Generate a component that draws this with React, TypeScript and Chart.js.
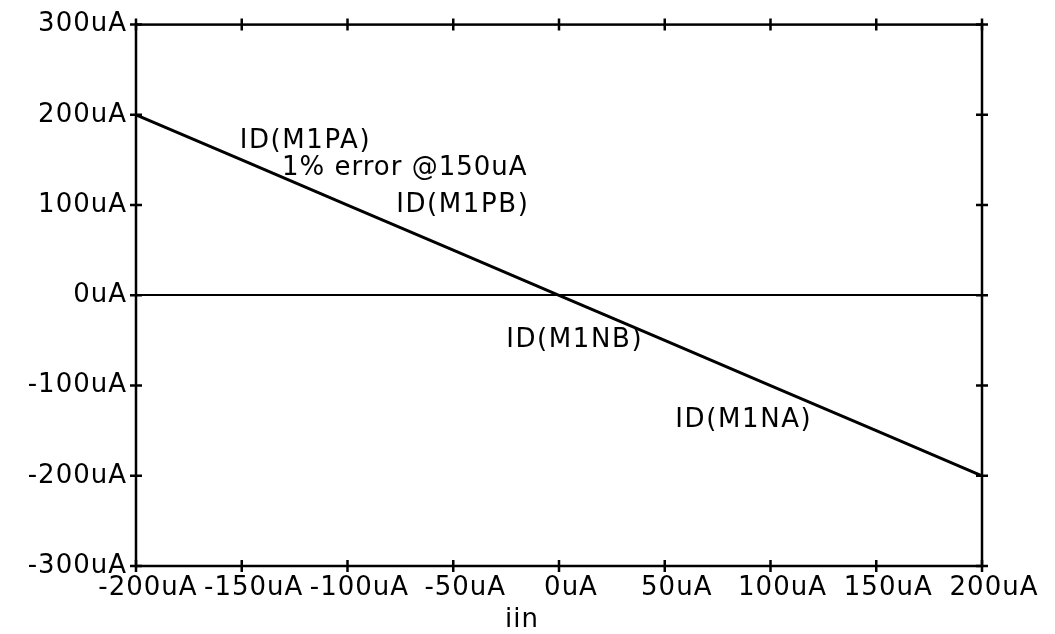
import React, { useEffect, useRef } from "react";
import { Chart, registerables } from "chart.js";

Chart.register(...registerables);

const iinValues = [-200, -150, -100, -50, 0, 50, 100, 150, 200];
const idValues = [200, 150, 100, 50, 0, -50, -100, -150, -200];
const xTickValues = [-200, -150, -100, -50, 0, 50, 100, 150, 200];
const yTickValues = [-300, -200, -100, 0, 100, 200, 300];
const annotationTexts = ["ID(M1PA)", "1% error @150uA", "ID(M1PB)", "ID(M1NB)", "ID(M1NA)"];
const annotationX = [-151, -131, -77, -25, 55];
const annotationY = [171, 141, 100, -50, -139];
const xTitle = "iin";
const xTitlePos = -17.5;

const FONT = "DejaVu Sans";

const framePlugin = {
  id: "frame",
  beforeUpdate(chart: any) {
    chart.ctx.letterSpacing = "1px";
  },
  beforeDraw(chart: any) {
    chart.ctx.letterSpacing = "1px";
  },
  afterDraw(chart: any) {
    const ctx = chart.ctx;
    const { left, right, top, bottom } = chart.chartArea;
    const xs = chart.scales.x;
    const ys = chart.scales.y;
    ctx.save();
    ctx.strokeStyle = "#000";
    ctx.lineWidth = 2.5;
    ctx.strokeRect(left, top, right - left, bottom - top);
    const t = 6;
    ctx.beginPath();
    xTickValues.forEach((v) => {
      const px = xs.getPixelForValue(v);
      ctx.moveTo(px, top - t);
      ctx.lineTo(px, top + t);
      ctx.moveTo(px, bottom - t);
      ctx.lineTo(px, bottom + t);
    });
    yTickValues.forEach((v) => {
      const py = ys.getPixelForValue(v);
      ctx.moveTo(left - t, py);
      ctx.lineTo(left + t, py);
      ctx.moveTo(right - t, py);
      ctx.lineTo(right + t, py);
    });
    ctx.stroke();
    ctx.fillStyle = "#000";
    ctx.font = `26px "${FONT}"`;
    ctx.textAlign = "left";
    ctx.textBaseline = "middle";
    annotationTexts.forEach((txt, i) => {
      ctx.letterSpacing = txt.startsWith("ID") ? "1.6px" : "1px";
      ctx.fillText(txt, xs.getPixelForValue(annotationX[i]), ys.getPixelForValue(annotationY[i]));
    });
    ctx.letterSpacing = "1px";
    ctx.textAlign = "center";
    ctx.textBaseline = "alphabetic";
    ctx.fillText(xTitle, xs.getPixelForValue(xTitlePos), bottom + 61);
    ctx.restore();
  },
};

export default function App() {
  const ref = useRef<HTMLCanvasElement | null>(null);
  useEffect(() => {
    if (!ref.current) return;
    const chart = new Chart(ref.current, {
      type: "line",
      data: {
        datasets: [
          {
            data: iinValues.map((x, i) => ({ x, y: idValues[i] })),
            borderColor: "#000",
            borderWidth: 3,
            pointRadius: 0,
            fill: false,
            tension: 0,
          },
        ],
      },
      options: {
        animation: false,
        responsive: false,
        events: [],
        layout: { padding: { top: 23, right: 73, left: 0, bottom: 0 } },
        plugins: { legend: { display: false }, tooltip: { enabled: false } },
        scales: {
          x: {
            type: "linear",
            min: -200,
            max: 200,
            afterBuildTicks: (s: any) => {
              s.ticks = xTickValues.map((value) => ({ value }));
            },
            afterFit: (s: any) => {
              s.height = 68;
            },
            grid: { display: false, drawTicks: false },
            border: { display: false },
            ticks: {
              autoSkip: false,
              maxRotation: 0,
              minRotation: 0,
              padding: 7,
              labelOffset: 12,
              color: "#000",
              font: { family: FONT, size: 26 },
              callback: (v: any) => `${v}uA`,
            },
          },
          y: {
            type: "linear",
            min: -300,
            max: 300,
            afterBuildTicks: (s: any) => {
              s.ticks = yTickValues.map((value) => ({ value }));
            },
            afterFit: (s: any) => {
              s.width = 136;
            },
            grid: {
              drawTicks: false,
              color: (c: any) => (c.tick && c.tick.value === 0 ? "#000" : "rgba(0,0,0,0)"),
              lineWidth: 2,
            },
            border: { display: false },
            ticks: {
              padding: 9,
              color: "#000",
              font: { family: FONT, size: 26 },
              callback: (v: any) => `${v}uA`,
            },
          },
        },
      },
      plugins: [framePlugin],
    } as any);
    return () => chart.destroy();
  }, []);
  return (
    <div style={{ position: "fixed", left: 0, top: 0, width: 1055, height: 634, background: "#fff" }}>
      <canvas ref={ref} width={1055} height={634} />
    </div>
  );
}
